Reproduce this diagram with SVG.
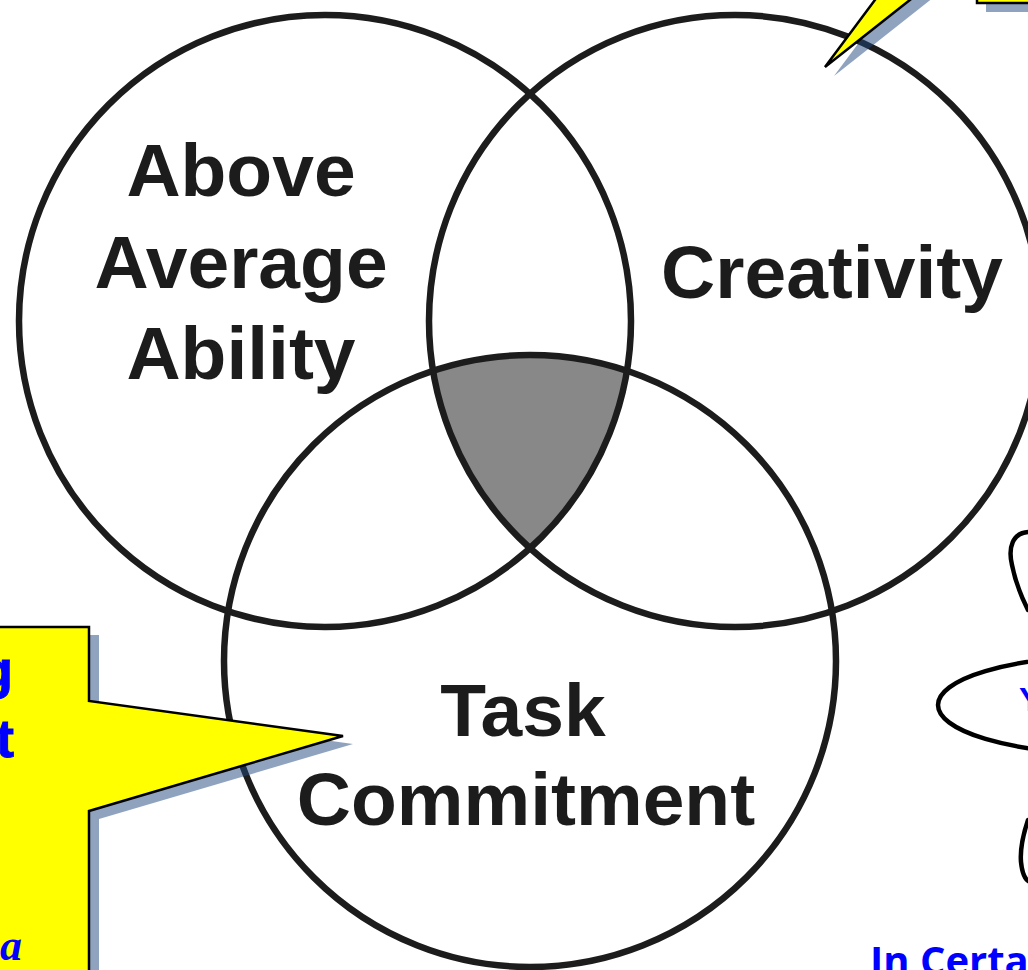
<svg xmlns="http://www.w3.org/2000/svg" width="1028" height="970" viewBox="0 0 1028 970">
  <style>
    .ring { fill: none; stroke: #1c1c1c; stroke-width: 6.5; }
    .label { font-family: "Liberation Sans", Arial, Helvetica, sans-serif; font-weight: bold; font-size: 75px; fill: #1c1c1c; text-anchor: middle; }
    .callout { fill: #ffff00; stroke: #000000; stroke-width: 2.5; stroke-linejoin: miter; }
    .shadow { fill: #1f477f; opacity: 0.5; }
    .note { font-family: "Liberation Sans", Arial, sans-serif; font-weight: bold; fill: #0000ff; }
    .sketch { fill: none; stroke: #000000; stroke-width: 4.5; stroke-linecap: round; }
  </style>
  <defs>
    <path id="callout-left-shape" d="M -10 627 L 89 627 L 89 701 L 343 736 L 89 811 L 89 990 L -10 990 Z"/>
    <path id="callout-top-shape" d="M 977 -200 L 977 -137 L 825 67 L 977 -53 L 977 3 L 1040 3 L 1040 -200 Z"/>
  </defs>

  <rect width="1028" height="970" fill="#ffffff"/>

  <!-- shared core of the three rings -->
  <g id="core-overlap">
    <path d="M 433.1 370.8 A 306 306 0 0 1 626.9 370.8 A 306 306 0 0 1 530 548.2 A 306 306 0 0 1 433.1 370.8 Z" fill="#878887"/>
  </g>

  <g id="circle-ability">
    <circle class="ring" cx="325" cy="321" r="306"/>
    <text class="label" x="241" y="196">Above</text>
    <text class="label" x="241" y="288">Average</text>
    <text class="label" x="241" y="379">Ability</text>
  </g>

  <g id="circle-creativity">
    <circle class="ring" cx="735" cy="321" r="306"/>
    <text class="label" x="832" y="298">Creativity</text>
  </g>

  <g id="circle-commitment">
    <circle class="ring" cx="530" cy="661" r="306"/>
    <text class="label" x="523" y="736">Task</text>
    <text class="label" x="526" y="825">Commitment</text>
  </g>

  <!-- yellow callouts with drop shadows -->
  <g id="callout-top">
    <use href="#callout-top-shape" class="shadow" transform="translate(9 9)"/>
    <use href="#callout-top-shape" class="callout"/>
  </g>

  <g id="callout-left">
    <use href="#callout-left-shape" class="shadow" transform="translate(10 8)"/>
    <use href="#callout-left-shape" class="callout"/>
    <text class="note" x="13" y="688" font-size="54" text-anchor="end" stroke="#0000ff" stroke-width="1">g</text>
    <text class="note" x="14" y="757" font-size="54" text-anchor="end" stroke="#0000ff" stroke-width="1">t</text>
    <text x="22" y="960" font-family="'Liberation Serif', 'DejaVu Serif', serif" font-style="italic" font-weight="bold" font-size="44" fill="#0000ff" text-anchor="end">a</text>
  </g>

  <!-- hand-drawn marks along the right edge -->
  <g id="sketch-marks">
    <path class="sketch" d="M 1030 532 C 1012 532, 1008 548, 1012 565 C 1015 580, 1020 594, 1028 610"/>
    <ellipse class="sketch" cx="1100" cy="705" rx="162" ry="48"/>
    <text class="note" x="1019" y="711" font-size="34">Y</text>
    <path class="sketch" d="M 1028 820 C 1023 835, 1020 850, 1021 862 C 1022 872, 1025 880, 1030 882"/>
  </g>

  <g id="caption">
    <text x="870" y="975" font-family="'Open Sans', 'Liberation Sans', sans-serif" font-weight="bold" font-size="40" fill="#0000ff">In Certa</text>
  </g>
</svg>
